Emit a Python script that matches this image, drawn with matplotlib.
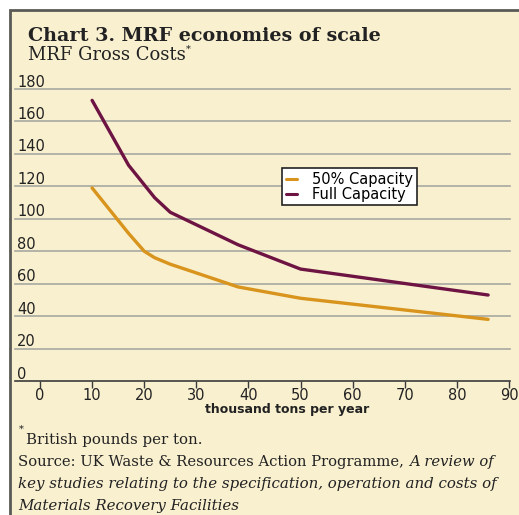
import matplotlib
matplotlib.use('Agg')
import matplotlib.pyplot as plt
from matplotlib.patches import Rectangle
from matplotlib.text import Annotation

# data (thousand tons per year vs GBP per ton)
capacity_tons = [10, 17, 20, 22, 25, 38, 50, 86]
cost_50pct = [119, 91, 80, 76, 72, 58, 51, 38]
cost_full = [173, 133, 121, 113, 104, 84, 69, 53]
series_names = ['50% Capacity', 'Full Capacity']
x_ticks = [0, 10, 20, 30, 40, 50, 60, 70, 80, 90]
y_ticks = [0, 20, 40, 60, 80, 100, 120, 140, 160, 180]

cream = '#F9F0D0'
orange = '#D8941C'
maroon = '#6E1443'
grid_grey = '#A8A8A0'
ink = '#222222'
serif = 'DejaVu Serif'
sans = 'DejaVu Sans'

W, H = 519, 515
fig = plt.figure(figsize=(W / 100, H / 100), dpi=100, facecolor='white')

# cream panel with border on top/left
fig.patches.append(Rectangle((10 / W, -0.05), 1.2, 1 - 10 / H + 0.05,
                             transform=fig.transFigure, facecolor=cream,
                             edgecolor='#5A5A55', linewidth=2, zorder=-5))

ax = fig.add_axes([15 / W, 1 - 381 / H, 495 / W, 292 / H])
ax.set_facecolor('none')
ax.set_zorder(2)
ax.set_xlim(-4.8, 90.2)
ax.set_ylim(0, 180)

for y in y_ticks[1:]:
    ax.axhline(y, color=grid_grey, linewidth=1.2, zorder=1, clip_on=False)
ax.axhline(0, color='#3A3A3A', linewidth=1.2, zorder=1, clip_on=False)

ax.plot(capacity_tons, cost_50pct, color=orange, linewidth=2.4,
        solid_capstyle='round', solid_joinstyle='round',
        label=series_names[0], zorder=3)
ax.plot(capacity_tons, cost_full, color=maroon, linewidth=2.4,
        solid_capstyle='round', solid_joinstyle='round',
        label=series_names[1], zorder=3)

for s in ax.spines.values():
    s.set_visible(False)
ax.set_yticks([])
ax.set_xticks(x_ticks)
ax.set_xticklabels([str(v) for v in x_ticks], fontsize=10.5, family=sans,
                   color=ink)
ax.tick_params(axis='x', length=5, width=1, color='#3A3A3A', pad=0)

# y labels sit just above the gridlines, left aligned
for y in y_ticks:
    ax.text(-4.4, y + 1.5, str(y), fontsize=10.5, family=sans,
            color=ink, ha='left', va='baseline')

ax.set_xlabel('thousand tons per year', fontsize=9, family=sans,
              fontweight='bold', color=ink, labelpad=0)
ax.xaxis.set_label_coords(0.55, -0.075)

leg = ax.legend(loc='upper left', bbox_to_anchor=(267 / 495, 1 - (168 - 89) / 292),
                frameon=True, fancybox=False, handlelength=0.8,
                handletextpad=1.0, borderpad=0.25, labelspacing=0.0,
                borderaxespad=0, prop={'family': sans, 'size': 10.5})
leg.get_frame().set_edgecolor(ink)
leg.get_frame().set_linewidth(1.2)
leg.get_frame().set_alpha(1)
for line in leg.get_lines():
    line.set_linewidth(2.2)

# titles
fig.text(28 / W, 1 - 41 / H, 'Chart 3. MRF economies of scale',
         fontsize=13.8, family=serif, fontweight='bold', color=ink)
sub = fig.text(28 / W, 1 - 60 / H, 'MRF Gross Costs', fontsize=13,
               family=serif, color=ink)
fig.add_artist(Annotation('*', xy=(1, 0.55), xycoords=sub, fontsize=7,
                          family=serif, color=ink, va='bottom'))

# footnotes
fig.text(19 / W, 1 - 432 / H, '*', fontsize=7, family=serif, color=ink)
fig.text(26 / W, 1 - 444 / H, 'British pounds per ton.', fontsize=10.8,
         family=serif, color=ink)
src = fig.text(18 / W, 1 - 466 / H, 'Source: UK Waste & Resources Action Programme, ',
               fontsize=10.6, family=serif, color=ink)
fig.add_artist(Annotation('A review of', xy=(1, 0), xycoords=src, fontsize=10.6,
                          family=serif, style='italic', color=ink, va='bottom'))
fig.text(18 / W, 1 - 488 / H,
         'key studies relating to the specification, operation and costs of',
         fontsize=10.8, family=serif, style='italic', color=ink)
fig.text(18 / W, 1 - 510 / H, 'Materials Recovery Facilities', fontsize=10.8,
         family=serif, style='italic', color=ink)

fig.savefig('out.png', dpi=100, facecolor='white')
